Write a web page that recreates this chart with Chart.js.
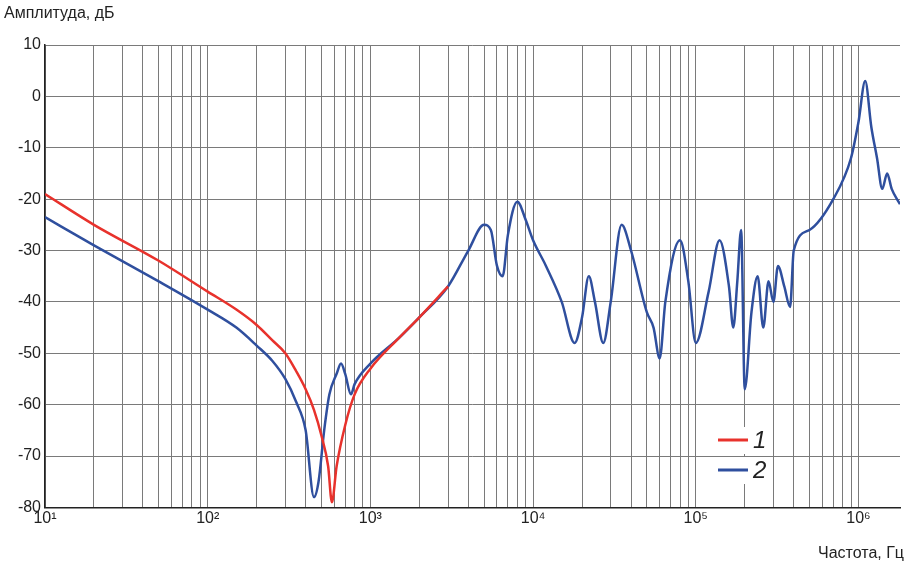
<!DOCTYPE html>
<html><head><meta charset="utf-8">
<script src="https://cdn.jsdelivr.net/npm/chart.js@4"></script>
<style>body{margin:0;background:#fff}#w{width:906px;height:567px}</style></head>
<body><div id="w"><canvas id="c"></canvas></div>
<script>
const freqRed=[10,20,50,100,150,200,250,300,350,400,450,500,550,580,620,700,800,1000,1500,2000,3000];
const ampRed=[-19,-25,-32,-38,-41.5,-44.5,-47.5,-50,-53.5,-57,-61,-66,-72,-79,-72,-64,-58,-53,-47,-43,-37];
const freqBlue=[10,20,50,100,150,200,250,300,350,400,450,480,520,560,620,660,700,760,800,1000,1500,2000,3000,4000,5000,5500,6000,6500,7000,8000,9000,10000,12000,15000,18000,20000,22000,24000,27000,30000,35000,40000,50000,55000,60000,65000,80000,90000,100000,120000,140000,160000,170000,180000,190000,200000,220000,240000,260000,280000,300000,320000,350000,380000,400000,500000,700000,900000,1000000,1100000,1200000,1300000,1400000,1500000,1600000,1800000];
const ampBlue=[-23.5,-29,-36,-41.5,-45,-48.5,-51.5,-55,-59.5,-65,-78,-75,-65,-58,-54,-52,-54,-58,-56,-52,-47,-43,-37,-30,-25,-26,-33,-35,-27,-20.5,-24,-28,-33,-40,-48,-43,-35,-40,-48,-40,-25,-30,-42,-45,-51,-40,-28,-36,-48,-38,-28,-37,-45,-36,-26,-57,-42,-35,-45,-36,-40,-33,-37,-41,-30,-26,-20,-12,-5,3,-6,-12,-18,-15,-18,-21];
const yTicks=[10,0,-10,-20,-30,-40,-50,-60,-70,-80];
const sup={1:'¹',2:'²',3:'³',4:'⁴',5:'⁵',6:'⁶'};
const pts=(f,a)=>f.map((x,i)=>({x,y:a[i]}));
const deco={id:'deco',afterDraw(ch){const c=ch.ctx;c.save();
c.fillStyle='#222';c.font='16px "Liberation Sans", Arial';c.textAlign='left';c.textBaseline='top';
c.fillText('Амплитуда, дБ',4,6);c.textAlign='right';c.fillText('Частота, Гц',904,546);
const L=[['1','#e8322c',440],['2','#2f4f9e',470]];
c.font='italic 24px "Liberation Sans", Arial';c.textAlign='left';c.textBaseline='middle';
L.forEach(([t,col,y])=>{c.fillStyle='#fff';c.fillRect(715,y-13,50,27);c.strokeStyle=col;c.lineWidth=3;c.beginPath();c.moveTo(718,y);c.lineTo(748,y);c.stroke();c.fillStyle='#222';c.fillText(t,753,y+1);});
c.restore();}};
new Chart(document.getElementById('c'),{type:'line',
data:{datasets:[
{data:pts(freqRed,ampRed),borderColor:'#e8322c',borderWidth:2.5,pointRadius:0,cubicInterpolationMode:'monotone'},
{data:pts(freqBlue,ampBlue),borderColor:'#2f4f9e',borderWidth:2.5,pointRadius:0,cubicInterpolationMode:'monotone'}]},
options:{animation:false,responsive:true,maintainAspectRatio:false,
layout:{padding:{top:45,right:6,left:0,bottom:14}},
plugins:{legend:{display:false},tooltip:{enabled:false}},
scales:{
x:{type:'logarithmic',min:10,max:1800000,
afterBuildTicks(ax){const t=[];for(let e=1;e<=6;e++)for(let m=1;m<=9;m++){const v=m*Math.pow(10,e);if(v<=1800000)t.push({value:v});}ax.ticks=t;},
ticks:{autoSkip:false,maxRotation:0,color:'#222',font:{size:16,family:'Liberation Sans'},padding:2,callback(v){const e=Math.round(Math.log10(v));return Math.abs(v-Math.pow(10,e))<1e-6?'10'+sup[e]:'';}},
grid:{color:'#7a7a7a',lineWidth:1,drawTicks:false},border:{color:'#222',width:1.5},
title:{display:true,text:' ',font:{size:12}}},
y:{min:-80,max:10,afterBuildTicks(ax){ax.ticks=yTicks.map(v=>({value:v}));},
afterFit(ax){ax.width=45;},
ticks:{color:'#222',font:{size:16,family:'Liberation Sans'},padding:4},
grid:{color:'#7a7a7a',lineWidth:1,drawTicks:false},border:{color:'#222',width:1.5}}}},
plugins:[deco]});
</script></body></html>
